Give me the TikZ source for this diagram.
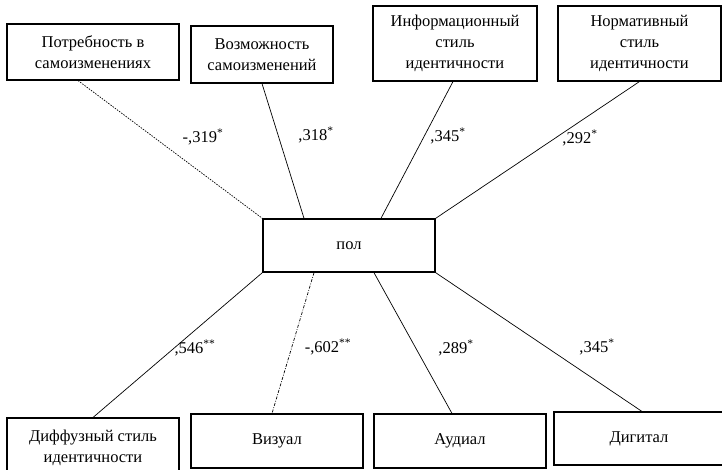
\documentclass[tikz,border=0pt]{standalone}
\usepackage{fontspec}
\setmainfont{Liberation Serif}
\usepackage{tikz}
\usetikzlibrary{positioning}

\tikzset{
  box/.style={draw, line width=1.1pt, align=center, inner sep=0pt, font=\fontsize{16.5}{21}\selectfont},
  coef/.style={font=\fontsize{16.5}{20}\selectfont, inner sep=0pt},
  link/.style={line width=0.7pt},
}

\begin{document}
\begin{tikzpicture}[x=1pt, y=-1pt]
  \useasboundingbox (0,0) rectangle (722,469);
  % upper row of scales
  \node[box, minimum width=172pt, minimum height=56pt] (need) at (93,52) {Потребность в\\самоизменениях};
  \node[box, minimum width=142pt, minimum height=57pt] (chance) at (262,54.5) {Возможность\\самоизменений};
  \node[box, minimum width=164pt, minimum height=75pt] (info) at (455,43.5) {Информационный\\стиль\\идентичности};
  \node[box, minimum width=163pt, minimum height=75pt] (norm) at (639.5,43.5) {Нормативный\\стиль\\идентичности};
  % centre
  \node[box, line width=1.4pt, minimum width=172pt, minimum height=53pt] (sex) at (349,245.5) {пол};
  % lower row of scales
  \node[box, minimum width=172pt, minimum height=59pt] (diff) at (93,447.5) {Диффузный стиль\\идентичности};
  \node[box, minimum width=172pt, minimum height=54pt] (vis) at (277,441) {Визуал};
  \node[box, minimum width=172pt, minimum height=54pt] (aud) at (460,441) {Аудиал};
  \node[box, minimum width=170pt, minimum height=53pt] (dig) at (639,438.5) {Дигитал};

  % links to the upper row
  \draw[link, dash pattern=on 1.5pt off 1.2pt] ([xshift=-15pt]need.south) -- (sex.north west);
  \draw[link] (chance.south) -- ([xshift=-45pt]sex.north);
  \draw[link] ([xshift=-2pt]info.south) -- ([xshift=32pt]sex.north);
  \draw[link] (norm.south) -- (sex.north east);
  % links to the lower row
  \draw[link] (sex.south west) -- (diff.north);
  \draw[link, dash pattern=on 3pt off 1.5pt on 0.8pt off 1.5pt] ([xshift=-35pt]sex.south) -- ([xshift=-5pt]vis.north);
  \draw[link] ([xshift=25pt]sex.south) -- ([xshift=-8pt]aud.north);
  \draw[link] (sex.south east) -- ([xshift=3pt]dig.north);

  % coefficients
  \node[coef] (c1) at (203,137) {-,319\textsuperscript{*}};
  \node[coef] (c2) at (316,135) {,318\textsuperscript{*}};
  \node[coef] (c3) at (448,136) {,345\textsuperscript{*}};
  \node[coef] (c4) at (580,138) {,292\textsuperscript{*}};
  \node[coef] (c5) at (195,348) {,546\textsuperscript{**}};
  \node[coef] (c6) at (328,347) {-,602\textsuperscript{**}};
  \node[coef] (c7) at (456,348) {,289\textsuperscript{*}};
  \node[coef] (c8) at (597,347) {,345\textsuperscript{*}};
\end{tikzpicture}
\end{document}
